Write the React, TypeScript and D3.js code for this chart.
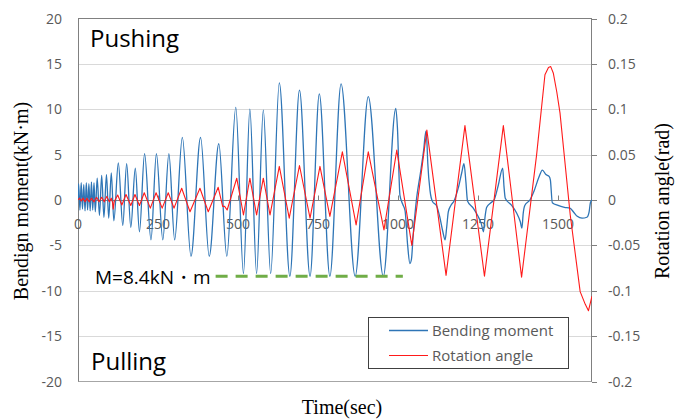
import React from 'react';
import * as d3 from 'd3';

// bending moment (kN·m) vs time (sec) — peaks / troughs
const momentData: [number, number][] = [
  [0, 0], [2, 1.8], [6, -1.1], [10, 1.9], [14, -1.0], [18, 1.7], [22, -1.2], [26, 1.9],
  [30, -1.1], [34, 1.8], [38, -1.2], [42, 2.0], [46, -1.1], [50, 1.9], [54, -1.3],
  [60, 2.4], [67, -1.7], [74, 2.7], [81, -1.9], [89, 2.8], [96, -2.0], [104, 3.0], [112, -2.3],
  [126, 4.1], [140, -2.8], [152, 4.0], [165, -3.0], [179, 3.5], [192, -3.5],
  [208, 5.1], [228, -4.4], [245, 5.1], [265, -4.4], [284, 5.1], [302, -4.4],
  [326, 6.9], [353, -6.2], [383, 6.9], [410, -6.2], [440, 6.2], [465, -6.2],
  [493, 10.2], [517, -8.1], [537, 10.0], [558, -8.1], [579, 9.9], [602, -8.1],
  [629, 12.9], [662, -8.4], [692, 12.1], [725, -8.4], [754, 11.7], [787, -8.4],
  [822, 12.8], [866, -8.4], [907, 11.4], [954, -8.4], [993, 10.1], [998, 8.0],
  [1006, 0.5], [1015, -0.5], [1022, -1.2], [1030, -5.0], [1037, -7.0], [1042, -6.5],
  [1047, -4.0], [1058, 0.2], [1070, 3.0], [1080, 5.5], [1087, 7.6], [1090, 6.5],
  [1093, 4.0], [1100, 1.0], [1108, -0.2], [1120, -0.6], [1130, -1.8], [1140, -3.5],
  [1147, -4.4], [1152, -3.0], [1157, -1.3], [1165, -0.6], [1175, -0.1], [1188, 1.3],
  [1199, 3.0], [1206, 4.0], [1212, 2.0], [1217, -0.1], [1235, -0.9], [1250, -1.8],
  [1260, -2.6], [1267, -3.5], [1272, -1.8], [1277, -0.8], [1290, -0.3], [1300, 0],
  [1313, 1.6], [1327, 3.5], [1331, 1.5], [1335, 0.2], [1355, -0.6], [1370, -1.4],
  [1382, -2.4], [1387, -3.1], [1391, -1.5], [1396, -0.6], [1412, 0], [1425, 1.0],
  [1440, 2.5], [1451, 3.3], [1462, 2.8], [1472, 2.6], [1476, 2.2], [1482, -0.3],
  [1500, -0.6], [1520, -0.8], [1537, -0.9], [1550, -1.4], [1560, -1.8], [1575, -2.0],
  [1590, -1.9], [1597, -1.3], [1601, -0.3], [1606, 0],
];

// rotation angle (rad) vs time (sec)
const rotationData: [number, number][] = [
  [0, 0], [5, 0.002], [10, -0.001], [16, 0.002], [22, -0.002], [28, 0.002], [35, -0.002],
  [42, 0.002], [50, -0.002], [58, 0.003], [66, -0.002], [74, 0.003], [82, -0.002],
  [90, 0.004], [98, -0.002], [104, 0.002], [108, -0.003], [110, -0.01], [113, -0.002],
  [124, 0.0055], [137, -0.0055], [150, 0.006], [165, -0.006], [178, 0.006], [192, -0.006],
  [207, 0.008], [226, -0.009], [244, 0.008], [263, -0.009], [282, 0.008], [300, -0.009],
  [324, 0.013], [350, -0.013], [381, 0.013], [407, -0.013], [438, 0.014], [452, -0.007],
  [458, -0.007], [466, -0.011], [496, 0.024], [517, -0.0165], [537, 0.024], [558, -0.0165],
  [579, 0.024], [600, -0.0165], [629, 0.037], [660, -0.02], [692, 0.038], [725, -0.02],
  [756, 0.037], [787, -0.018], [826, 0.053], [869, -0.0275], [907, 0.053], [956, -0.033],
  [996, 0.055], [1043, -0.05], [1090, 0.077], [1150, -0.083], [1209, 0.082], [1270, -0.084],
  [1329, 0.082], [1386, -0.085], [1433, 0.05], [1459, 0.138], [1470, 0.146], [1477, 0.147],
  [1485, 0.14], [1496, 0.119], [1506, 0.096], [1538, -0.0165], [1569, -0.101],
  [1585, -0.115], [1595, -0.122], [1606, -0.106],
];

const limitData: [number, number][] = [[430, -8.4], [1015, -8.4]];

const xTicks = [0, 250, 500, 750, 1000, 1250, 1500];
const leftTicks = [-20, -15, -10, -5, 0, 5, 10, 15, 20];
const rightTicks = [-0.2, -0.15, -0.1, -0.05, 0, 0.05, 0.1, 0.15, 0.2];

const W = 683;
const H = 419;
const left = 78;
const right = 592;
const top = 18.5;
const bottom = 381.5;

const sans = '"Open Sans", sans-serif';
const serif = '"Liberation Serif", serif';

const App: React.FC = () => {
  const x = d3.scaleLinear().domain([0, 1606]).range([left, right]);
  const yL = d3.scaleLinear().domain([-20, 20]).range([bottom, top]);
  const yR = d3.scaleLinear().domain([-0.2, 0.2]).range([bottom, top]);

  const momentLine = d3.line<[number, number]>()
    .x((d) => x(d[0]))
    .y((d) => yL(d[1]))
    .curve(d3.curveMonotoneX);
  const rotationLine = d3.line<[number, number]>()
    .x((d) => x(d[0]))
    .y((d) => yR(d[1]));
  const limitLine = d3.line<[number, number]>()
    .x((d) => x(d[0]))
    .y((d) => yL(d[1]));

  const y0 = Math.round(yL(0)) + 0.5;

  return (
    <svg width={W} height={H} style={{ position: 'absolute', left: 0, top: 0, background: '#fff' }}>
      <defs>
        <clipPath id="plot">
          <rect x={left} y={top} width={right - left} height={bottom - top} />
        </clipPath>
      </defs>

      {/* gridlines */}
      {leftTicks.filter((t) => Math.abs(t) !== 20 && t !== 0).map((t) => (
        <line key={t} x1={left} x2={right} y1={Math.round(yL(t)) + 0.5} y2={Math.round(yL(t)) + 0.5}
          stroke="#d9d9d9" strokeWidth={1} />
      ))}

      {/* frame */}
      <line x1={left} x2={right} y1={top} y2={top} stroke="#808080" />
      <line x1={left} x2={right} y1={bottom} y2={bottom} stroke="#a6a6a6" />
      <line x1={left + 0.5} x2={left + 0.5} y1={top} y2={bottom} stroke="#808080" />
      <line x1={right - 0.5} x2={right - 0.5} y1={top} y2={bottom} stroke="#808080" />

      {/* x axis at zero */}
      <line x1={left} x2={right} y1={y0} y2={y0} stroke="#808080" />
      {xTicks.map((t) => (
        <g key={t}>
          <line x1={Math.round(x(t)) + 0.5} x2={Math.round(x(t)) + 0.5} y1={y0} y2={y0 - 5} stroke="#808080" />
          <text x={x(t)} y={229} textAnchor="middle" fontFamily={sans} fontSize={14} fill="#595959">{t}</text>
        </g>
      ))}

      {/* left axis labels */}
      {leftTicks.map((t) => (
        <text key={t} x={62} y={yL(t) + 5} textAnchor="end" fontFamily={sans} fontSize={14} fill="#595959">{t}</text>
      ))}

      {/* right axis */}
      {rightTicks.map((t) => (
        <g key={t}>
          <line x1={right} x2={right + 5} y1={Math.round(yR(t)) + 0.5} y2={Math.round(yR(t)) + 0.5} stroke="#808080" />
          <text x={608} y={yR(t) + 5} fontFamily={sans} fontSize={14} fill="#595959">{t}</text>
        </g>
      ))}

      <g clipPath="url(#plot)">
        <path d={momentLine(momentData) ?? ''} fill="none" stroke="#2e75b6" strokeWidth={1.3} strokeLinejoin="round" />
        <path d={rotationLine(rotationData) ?? ''} fill="none" stroke="#ff1a1a" strokeWidth={1.1} strokeLinejoin="round" />
        <path d={limitLine(limitData) ?? ''} fill="none" stroke="#70ad47" strokeWidth={3} strokeDasharray="12,8" />
      </g>

      {/* annotations */}
      <text x={90} y={47} fontFamily={sans} fontSize={24} fill="#000">Pushing</text>
      <text x={91} y={370} fontFamily={sans} fontSize={24} fill="#000">Pulling</text>
      <text x={95} y={284} fontFamily={sans} fontSize={19} fill="#000">M=8.4kN・m</text>

      {/* legend */}
      <rect x={368.5} y={317.5} width={200} height={51} fill="#fff" stroke="#404040" />
      <line x1={389} x2={428} y1={330.5} y2={330.5} stroke="#2e75b6" strokeWidth={1.3} />
      <line x1={389} x2={428} y1={355.5} y2={355.5} stroke="#ff1a1a" strokeWidth={1.1} />
      <text x={432} y={336} fontFamily={sans} fontSize={15} fill="#595959">Bending moment</text>
      <text x={432} y={361} fontFamily={sans} fontSize={15} fill="#595959">Rotation angle</text>

      {/* axis titles */}
      <text transform="translate(28,201) rotate(-90)" textAnchor="middle" fontFamily={serif} fontSize={20} fill="#000">
        Bendign moment(kN·m)
      </text>
      <text transform="translate(669,201) rotate(-90)" textAnchor="middle" fontFamily={serif} fontSize={20} fill="#000">
        Rotation angle(rad)
      </text>
      <text x={342} y={414} textAnchor="middle" fontFamily={serif} fontSize={20} fill="#000">Time(sec)</text>
    </svg>
  );
};

export default App;
